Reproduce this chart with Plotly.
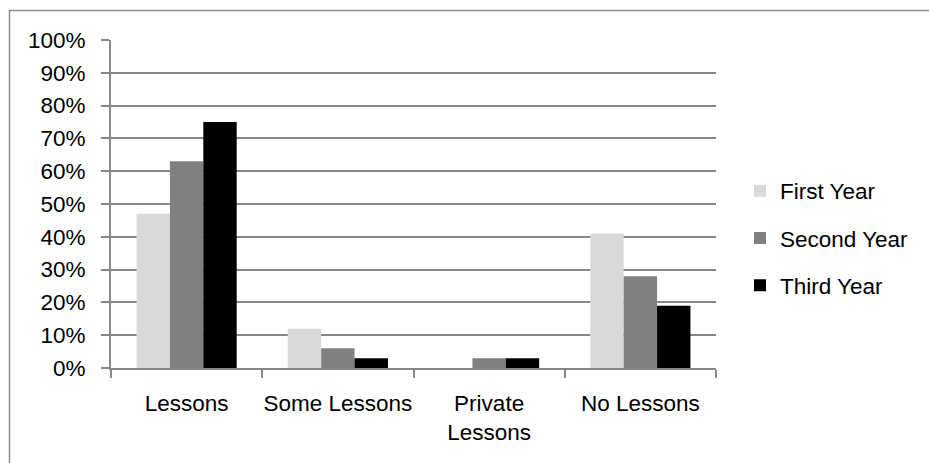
import plotly.graph_objects as go

# Share of students by lesson type, per study year (percent)
categories = ["Lessons", "Some Lessons", "Private<br>Lessons", "No Lessons"]
first_year = [47, 12, 0, 41]
second_year = [63, 6, 3, 28]
third_year = [75, 3, 3, 19]

series = [
    ("First Year", first_year, "#d9d9d9"),
    ("Second Year", second_year, "#808080"),
    ("Third Year", third_year, "#000000"),
]

W, H = 929, 463
L, R, T, B = 111, 716, 40, 368.5
GRID = "#888888"
FONT = dict(family="Liberation Sans, Arial, sans-serif", size=22.5, color="#000000")

fig = go.Figure()
for i, (name, vals, color) in enumerate(series):
    fig.add_trace(go.Bar(
        name=name, x=categories, y=vals,
        marker=dict(color=color, line=dict(width=0)),
        legendgroup=f"g{i}",
    ))

# outer chart-area border (only top and left edges fall inside the page)
def px_x(p):
    return (p - L) / (R - L)

def px_y(p):
    return (B - p) / (B - T)

fig.add_shape(type="rect", xref="paper", yref="paper",
              x0=px_x(9.5), x1=px_x(940), y0=px_y(10.5), y1=px_y(480),
              line=dict(color="#8c8c8c", width=1.5), fillcolor="rgba(0,0,0,0)",
              layer="below")

fig.update_layout(
    width=W, height=H,
    margin=dict(l=L, r=W - R, t=T, b=H - B, autoexpand=False),
    paper_bgcolor="white", plot_bgcolor="white",
    font=FONT,
    barmode="group", bargap=0.338, bargroupgap=0,
    showlegend=True,
    legend=dict(
        xref="container", yref="container",
        x=740 / W, y=1 - 238 / H, xanchor="left", yanchor="middle",
        font=FONT, tracegroupgap=15, bgcolor="rgba(0,0,0,0)",
    ),
    xaxis=dict(
        showline=True, linecolor=GRID, linewidth=2,
        ticks="outside", ticklen=8, tickcolor=GRID, tickwidth=2,
        tickson="boundaries", showgrid=False, tickangle=0,
        ticklabelstandoff=14, tickfont=FONT,
    ),
    yaxis=dict(
        range=[0, 100], dtick=10, ticksuffix="%",
        showline=True, linecolor=GRID, linewidth=2,
        ticks="outside", ticklen=8, tickcolor=GRID, tickwidth=2,
        showgrid=True, gridcolor=GRID, gridwidth=1.5,
        zeroline=False, ticklabelstandoff=11, tickfont=FONT,
    ),
)

fig.write_html("out.html")
